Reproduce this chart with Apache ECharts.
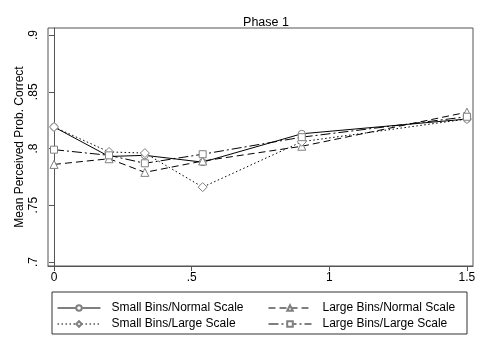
<!DOCTYPE html>
<html>
<head>
<meta charset="utf-8">
<script src="https://cdn.jsdelivr.net/npm/echarts@6/dist/echarts.min.js"></script>
<style>
  html, body { margin: 0; padding: 0; background: #fff; }
  #chart { width: 485px; height: 352px; }
</style>
</head>
<body>
<div id="chart"></div>
<script>
// x positions of the observations
const xValues = [0, 0.2, 0.33, 0.54, 0.9, 1.5];

// mean perceived probability correct per condition
const smallNormal = [0.819, 0.793, 0.794, 0.788, 0.813, 0.826];
const largeNormal = [0.786, 0.791, 0.779, 0.789, 0.802, 0.832];
const smallLarge = [0.819, 0.797, 0.796, 0.766, 0.806, 0.826];
const largeLarge = [0.799, 0.794, 0.787, 0.795, 0.810, 0.828];

const xTicks = [0, 0.5, 1, 1.5];
const yTicks = [0.7, 0.75, 0.8, 0.85, 0.9];

const FONT = '"Liberation Sans", Arial, sans-serif';
const MARK = '#808080';

// Stata style number labels: drop the leading zero
const stataFmt = v => {
    let s = String(Math.round(v * 1000) / 1000);
    if (s.startsWith('0.')) s = s.slice(1);
    return s;
};

const pairs = ys => xValues.map((x, i) => [x, ys[i]]);

const mkSeries = (name, ys, symbol, size, type) => ({
    name: name,
    type: 'line',
    data: pairs(ys),
    symbol: symbol,
    symbolSize: size,
    showSymbol: true,
    z: 3,
    lineStyle: { color: '#000', width: 1, type: type },
    itemStyle: { color: '#fff', borderColor: MARK, borderWidth: 1 },
    emphasis: { disabled: true }
});

const legendCol = (left, names) => ({
    orient: 'vertical',
    left: left, top: 302,
    padding: 0,
    itemWidth: 43, itemHeight: 7, itemGap: 4,
    data: names,
    lineStyle: { width: 1 },
    textStyle: { color: '#000', fontSize: 12, fontFamily: FONT, padding: [0, 0, 0, 6] },
    selectedMode: false
});

const chart = echarts.init(document.getElementById('chart'), null, { renderer: 'canvas' });

chart.setOption({
    animation: false,
    backgroundColor: '#fff',
    textStyle: { fontFamily: FONT },
    title: {
        text: 'Phase 1',
        left: 261,
        textAlign: 'center',
        top: 11,
        textStyle: { fontFamily: FONT, fontSize: 12.5, fontWeight: 'normal', color: '#000' }
    },
    grid: {
        left: 48, right: 12, top: 28, bottom: 86,
        show: true, borderColor: '#555', borderWidth: 1, backgroundColor: '#fff'
    },
    xAxis: {
        type: 'value',
        min: -0.0218,
        max: 1.522,
        splitLine: { show: false },
        axisLine: { show: true, lineStyle: { color: '#555' } },
        axisTick: { show: true, length: 5, customValues: xTicks, lineStyle: { color: '#555' } },
        axisLabel: {
            customValues: xTicks, formatter: stataFmt,
            color: '#000', fontSize: 12, fontFamily: FONT, margin: 6
        }
    },
    yAxis: {
        type: 'value',
        min: 0.6965,
        max: 0.9062,
        name: 'Mean Perceived Prob. Correct',
        nameLocation: 'middle',
        nameGap: 22,
        nameMoveOverlap: false,
        nameTextStyle: { color: '#000', fontSize: 12, fontFamily: FONT },
        splitLine: { show: false },
        axisLine: { show: true, lineStyle: { color: '#555' } },
        axisTick: { show: true, length: 5, customValues: yTicks, lineStyle: { color: '#555' } },
        axisLabel: {
            customValues: yTicks, formatter: stataFmt, rotate: 90,
            color: '#000', fontSize: 12, fontFamily: FONT, margin: 8
        }
    },
    graphic: [{
        type: 'rect',
        shape: { x: 52, y: 292, width: 415, height: 42 },
        style: { fill: 'none', stroke: '#333', lineWidth: 1 },
        silent: true
    }],
    legend: [
        legendCol(57, ['Small Bins/Normal Scale', 'Small Bins/Large Scale']),
        legendCol(268, ['Large Bins/Normal Scale', 'Large Bins/Large Scale'])
    ],
    series: [
        mkSeries('Small Bins/Normal Scale', smallNormal, 'circle', 7, 'solid'),
        mkSeries('Large Bins/Normal Scale', largeNormal, 'triangle', 8, [7, 4]),
        mkSeries('Small Bins/Large Scale', smallLarge, 'diamond', 9, [1.5, 2.5]),
        mkSeries('Large Bins/Large Scale', largeLarge, 'rect', 7, [10, 3, 2, 3])
    ]
});
</script>
</body>
</html>
